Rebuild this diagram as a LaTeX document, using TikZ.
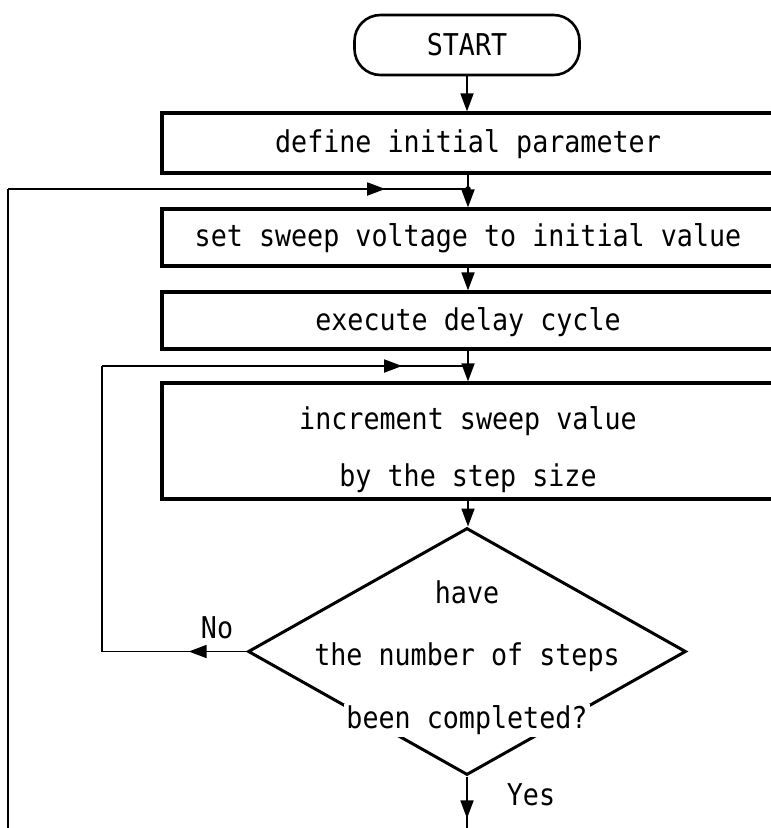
\documentclass[tikz,border=0pt]{standalone}
\usepackage{fontspec}
\newfontfamily\tw[FakeStretch=0.89]{DejaVu Sans Mono}
\usetikzlibrary{arrows.meta,decorations.markings,shapes.geometric}
\tikzset{
  every node/.style={font=\tw\fontsize{30pt}{57pt}\selectfont},
  procbox/.style={draw, line width=3.2pt, minimum width=612pt, align=center, inner sep=0pt},
  termbox/.style={draw, line width=2.6pt, rounded corners=26pt, minimum width=225pt, minimum height=60pt},
  decision/.style={draw, diamond, line width=3pt, minimum width=438pt, minimum height=247pt, inner sep=0pt},
  dtext/.style={fill=white, inner sep=2pt, text height=22pt, text depth=7pt},
  flow/.style={line width=1.8pt},
  arrowend/.style={-{Triangle[length=18pt,width=13pt]}},
  midarrow/.style={postaction={decorate}, decoration={markings, mark=at position #1 with {\arrow{Triangle[length=18pt,width=13pt]}}}},
}
\begin{document}
\begin{tikzpicture}[x=1pt,y=-1pt]
\useasboundingbox (0,0) rectangle (771,828);
\clip (0,0) rectangle (771,828);
% nodes
\node[termbox] (start) at (467,45) {\raisebox{0pt}{START}};
\node[procbox, minimum height=60pt] (b1) at (468,143) {\rule{0pt}{26pt}define initial parameter};
\node[procbox, minimum height=57pt] (b2) at (468,237.5) {\rule{0pt}{24pt}set sweep voltage to initial value};
\node[procbox, minimum height=57pt] (b3) at (468,320.5) {\rule{0pt}{26pt}execute delay cycle};
\node[procbox, minimum height=116pt] (b4) at (468,441) {\rule{0pt}{40pt}increment sweep value\\by the step size};
\node[decision] (dia) at (467,651.5) {};
\node[dtext] (t1) at (467,595.5) {have};
\node[dtext] (t2) at (467,658) {the number of steps};
\node[dtext] (t3) at (467,720.5) {been completed?};
\node (no) at (217,628) {No};
\node (yes) at (531,795) {Yes};
% coordinates
\coordinate (j1) at (468,189);
\coordinate (oc) at (8,189);
\coordinate (ob) at (8,840);
\coordinate (ij) at (468,366);
\coordinate (itl) at (102,366);
\coordinate (ibl) at (102,651.5);
\coordinate (yend) at (467,840);
% connectors
\draw[flow, arrowend] (start.south) -- (start.south |- b1.north);
\draw[flow, arrowend] (b1.south) -- (b2.north);
\fill (j1) circle (2.8pt);
\draw[flow] (ob) -- (oc);
\draw[flow, midarrow=0.82] (oc) -- (j1);
\draw[flow, arrowend] (b2.south) -- (b3.north);
\draw[flow, arrowend] (b3.south) -- (b4.north);
\draw[flow, midarrow=0.40] (dia.west) -- (ibl);
\draw[flow] (ibl) -- (itl);
\draw[flow, midarrow=0.82] (itl) -- (ij);
\draw[flow, arrowend] (b4.south) -- (b4.south |- dia.north);
\draw[flow, midarrow=0.66] (dia.south) -- (yend);
\end{tikzpicture}
\end{document}
